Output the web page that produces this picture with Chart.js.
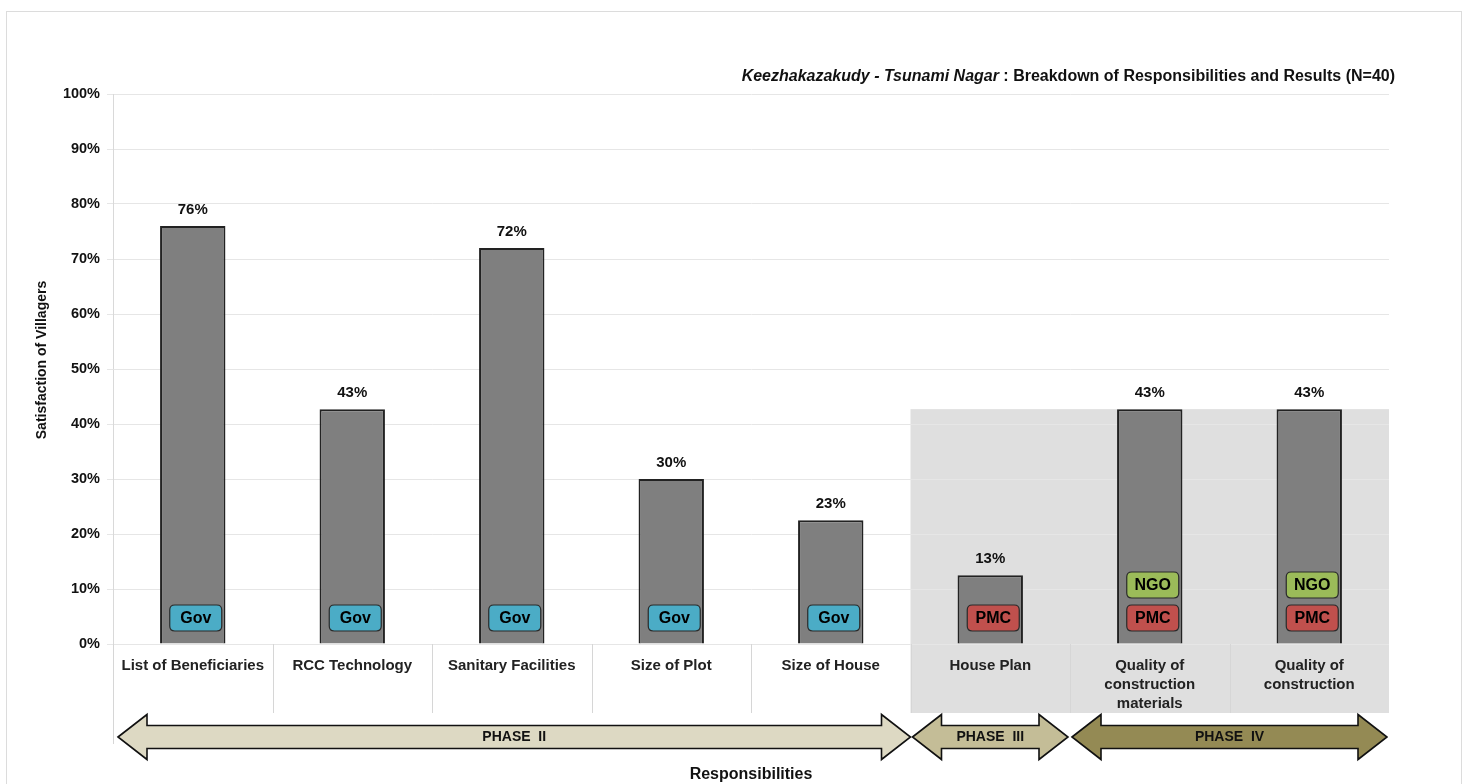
<!DOCTYPE html>
<html><head><meta charset="utf-8">
<script src="https://cdn.jsdelivr.net/npm/chart.js@4.4.0/dist/chart.umd.min.js"></script>
<style>html,body{margin:0;padding:0;background:#fff;overflow:hidden}#wrap{position:absolute;left:0;top:0;width:1467px;height:784px}</style>
</head><body><div id="wrap"><canvas id="c"></canvas></div>
<script>
const categories = [["List of Beneficiaries"],["RCC Technology"],["Sanitary Facilities"],["Size of Plot"],["Size of House"],["House Plan"],["Quality of","construction","materials"],["Quality of","construction"]];
const satisfaction = [76, 42.7, 72, 30, 22.5, 12.5, 42.7, 42.7];
const valueLabels = ["76%","43%","72%","30%","23%","13%","43%","43%"];
const responsibleLower = ["Gov","Gov","Gov","Gov","Gov","PMC","PMC","PMC"];
const responsibleUpper = [null,null,null,null,null,null,"NGO","NGO"];
const phaseNames = ["PHASE  II","PHASE  III","PHASE  IV"];
const phaseFirstCat = [0,5,6];
const phaseLastCat = [4,5,7];
const shadedFromCat = 5;
const yTickValues = [0,10,20,30,40,50,60,70,80,90,100];
const titleItalic = "Keezhakazakudy - Tsunami Nagar";
const titleRest = " : Breakdown of Responsibilities and Results (N=40)";
const yTitle = "Satisfaction of Villagers";

const FONT = '"Liberation Sans", Arial, Helvetica, sans-serif';
const badgeColors = {Gov:"#4bacc6", PMC:"#c0504d", NGO:"#9bbb59"};
const phaseColors = ["#ddd9c3","#c4bd97","#948a54"];

function boundary(xs, i){
  const n = xs.ticks.length;
  if (i <= 0) return xs.left;
  if (i >= n) return xs.right;
  return (xs.getPixelForTick(i-1) + xs.getPixelForTick(i)) / 2;
}
function roundRect(ctx,x,y,w,h,r){
  ctx.beginPath();
  ctx.moveTo(x+r,y);ctx.lineTo(x+w-r,y);ctx.quadraticCurveTo(x+w,y,x+w,y+r);
  ctx.lineTo(x+w,y+h-r);ctx.quadraticCurveTo(x+w,y+h,x+w-r,y+h);
  ctx.lineTo(x+r,y+h);ctx.quadraticCurveTo(x,y+h,x,y+h-r);
  ctx.lineTo(x,y+r);ctx.quadraticCurveTo(x,y,x+r,y);ctx.closePath();
}
function badge(ctx,label,cx,cy){
  const w=52,h=26;
  roundRect(ctx,cx-w/2,cy-h/2,w,h,5);
  ctx.fillStyle=badgeColors[label];ctx.fill();
  ctx.lineWidth=1.2;ctx.strokeStyle="#2a2a2a";ctx.stroke();
  ctx.fillStyle="#000";ctx.font="bold 16px "+FONT;
  ctx.textAlign="center";ctx.textBaseline="middle";
  ctx.fillText(label,cx,cy+1);
}
function dblArrow(ctx,x1,x2,cy,fill){
  const hh=22.5, bh=11.5, hl=29;
  ctx.beginPath();
  ctx.moveTo(x1,cy);
  ctx.lineTo(x1+hl,cy-hh);ctx.lineTo(x1+hl,cy-bh);
  ctx.lineTo(x2-hl,cy-bh);ctx.lineTo(x2-hl,cy-hh);
  ctx.lineTo(x2,cy);
  ctx.lineTo(x2-hl,cy+hh);ctx.lineTo(x2-hl,cy+bh);
  ctx.lineTo(x1+hl,cy+bh);ctx.lineTo(x1+hl,cy+hh);
  ctx.closePath();
  ctx.fillStyle=fill;ctx.fill();
  ctx.lineWidth=1.6;ctx.strokeStyle="#111";ctx.lineJoin="miter";ctx.stroke();
}

const decor = {
  id:"decor",
  beforeDraw(chart){
    const {ctx, chartArea:ca, scales:{x:xs,y:ys}} = chart;
    ctx.save();
    ctx.fillStyle="#fff";ctx.fillRect(0,0,chart.width,chart.height);
    ctx.strokeStyle="#dcdcdc";ctx.lineWidth=1;
    ctx.strokeRect(6.5,11.5,1455,800);
    const sx = boundary(xs, shadedFromCat);
    const sy = ys.getPixelForValue(satisfaction[shadedFromCat+1]);
    ctx.fillStyle="#dfdfdf";
    ctx.fillRect(sx, sy, ca.right-sx, ca.bottom+69-sy);
    ctx.restore();
  },
  afterDraw(chart){
    const {ctx, chartArea:ca, scales:{x:xs,y:ys}} = chart;
    const meta = chart.getDatasetMeta(0);
    ctx.save();
    ctx.strokeStyle="#d6d6d6";ctx.lineWidth=1;
    for(let i=1;i<categories.length;i++){
      const bx=Math.round(boundary(xs,i))+0.5;
      ctx.beginPath();ctx.moveTo(bx,ca.bottom);ctx.lineTo(bx,ca.bottom+69);ctx.stroke();
    }
    ctx.beginPath();ctx.moveTo(Math.round(ca.left)+0.5,ca.bottom);ctx.lineTo(Math.round(ca.left)+0.5,ca.bottom+100);ctx.stroke();
    meta.data.forEach((bar,i)=>{
      ctx.fillStyle="#111";ctx.font="bold 15px "+FONT;
      ctx.textAlign="center";ctx.textBaseline="middle";
      ctx.fillText(valueLabels[i], bar.x, bar.y-16);
      badge(ctx,responsibleLower[i],bar.x+3,ys.getPixelForValue(0)-26);
      if(responsibleUpper[i]) badge(ctx,responsibleUpper[i],bar.x+3,ys.getPixelForValue(0)-59);
    });
    const cy = ca.bottom+93;
    for(let p=0;p<phaseNames.length;p++){
      const x1 = boundary(xs,phaseFirstCat[p])+ (p===0?5:2);
      const x2 = boundary(xs,phaseLastCat[p]+1)-(p===0?0:2);
      dblArrow(ctx,x1,x2,cy,phaseColors[p]);
      ctx.fillStyle="#111";ctx.font="bold 14px "+FONT;
      ctx.textAlign="center";ctx.textBaseline="middle";
      ctx.fillText(phaseNames[p],(x1+x2)/2,cy);
    }
    // y axis title
    ctx.save();
    ctx.translate(42,360);ctx.rotate(-Math.PI/2);
    ctx.fillStyle="#111";ctx.font="bold 14px "+FONT;
    ctx.textAlign="center";ctx.textBaseline="middle";
    ctx.fillText(yTitle,0,0);
    ctx.restore();
    // title
    ctx.textBaseline="alphabetic";ctx.textAlign="left";
    ctx.font="bold 16px "+FONT;
    const wRest = ctx.measureText(titleRest).width;
    ctx.font="italic bold 16px "+FONT;
    const wIt = ctx.measureText(titleItalic).width;
    const xEnd = 1395;
    ctx.fillStyle="#111";
    ctx.fillText(titleItalic, xEnd-wRest-wIt, 81);
    ctx.font="bold 16px "+FONT;
    ctx.fillText(titleRest, xEnd-wRest, 81);
    ctx.restore();
  }
};

new Chart(document.getElementById("c"), {
  type:"bar",
  data:{labels:categories, datasets:[{data:satisfaction, backgroundColor:"#7f7f7f", borderColor:"#222", borderWidth:2, categoryPercentage:1, barPercentage:0.41}]},
  options:{
    responsive:true, maintainAspectRatio:false, animation:false,
    layout:{padding:{left:0,top:94,right:78,bottom:0}},
    plugins:{legend:{display:false},tooltip:{enabled:false}},
    scales:{
      x:{
        grid:{display:false,drawTicks:false},
        border:{display:false},
        ticks:{autoSkip:false,maxRotation:0,minRotation:0,padding:12,color:"#222",font:{family:FONT,size:15,weight:"bold",lineHeight:1.27}},
        title:{display:true,text:"Responsibilities",color:"#111",font:{family:FONT,size:16,weight:"bold"},padding:{top:0,bottom:0}},
        afterFit(s){s.height=140;}
      },
      y:{
        min:0,max:100,
        afterBuildTicks(s){s.ticks=yTickValues.map(v=>({value:v}));},
        grid:{color:"#e6e6e6",lineWidth:1,tickLength:6,drawTicks:true},
        border:{display:true,color:"#d9d9d9"},
        ticks:{padding:7,color:"#111",font:{family:FONT,size:14.5,weight:"bold"},callback:v=>v+"%"},
        title:{display:false},
        afterFit(s){s.width=113;}
      }
    }
  },
  plugins:[decor]
});
</script></body></html>
